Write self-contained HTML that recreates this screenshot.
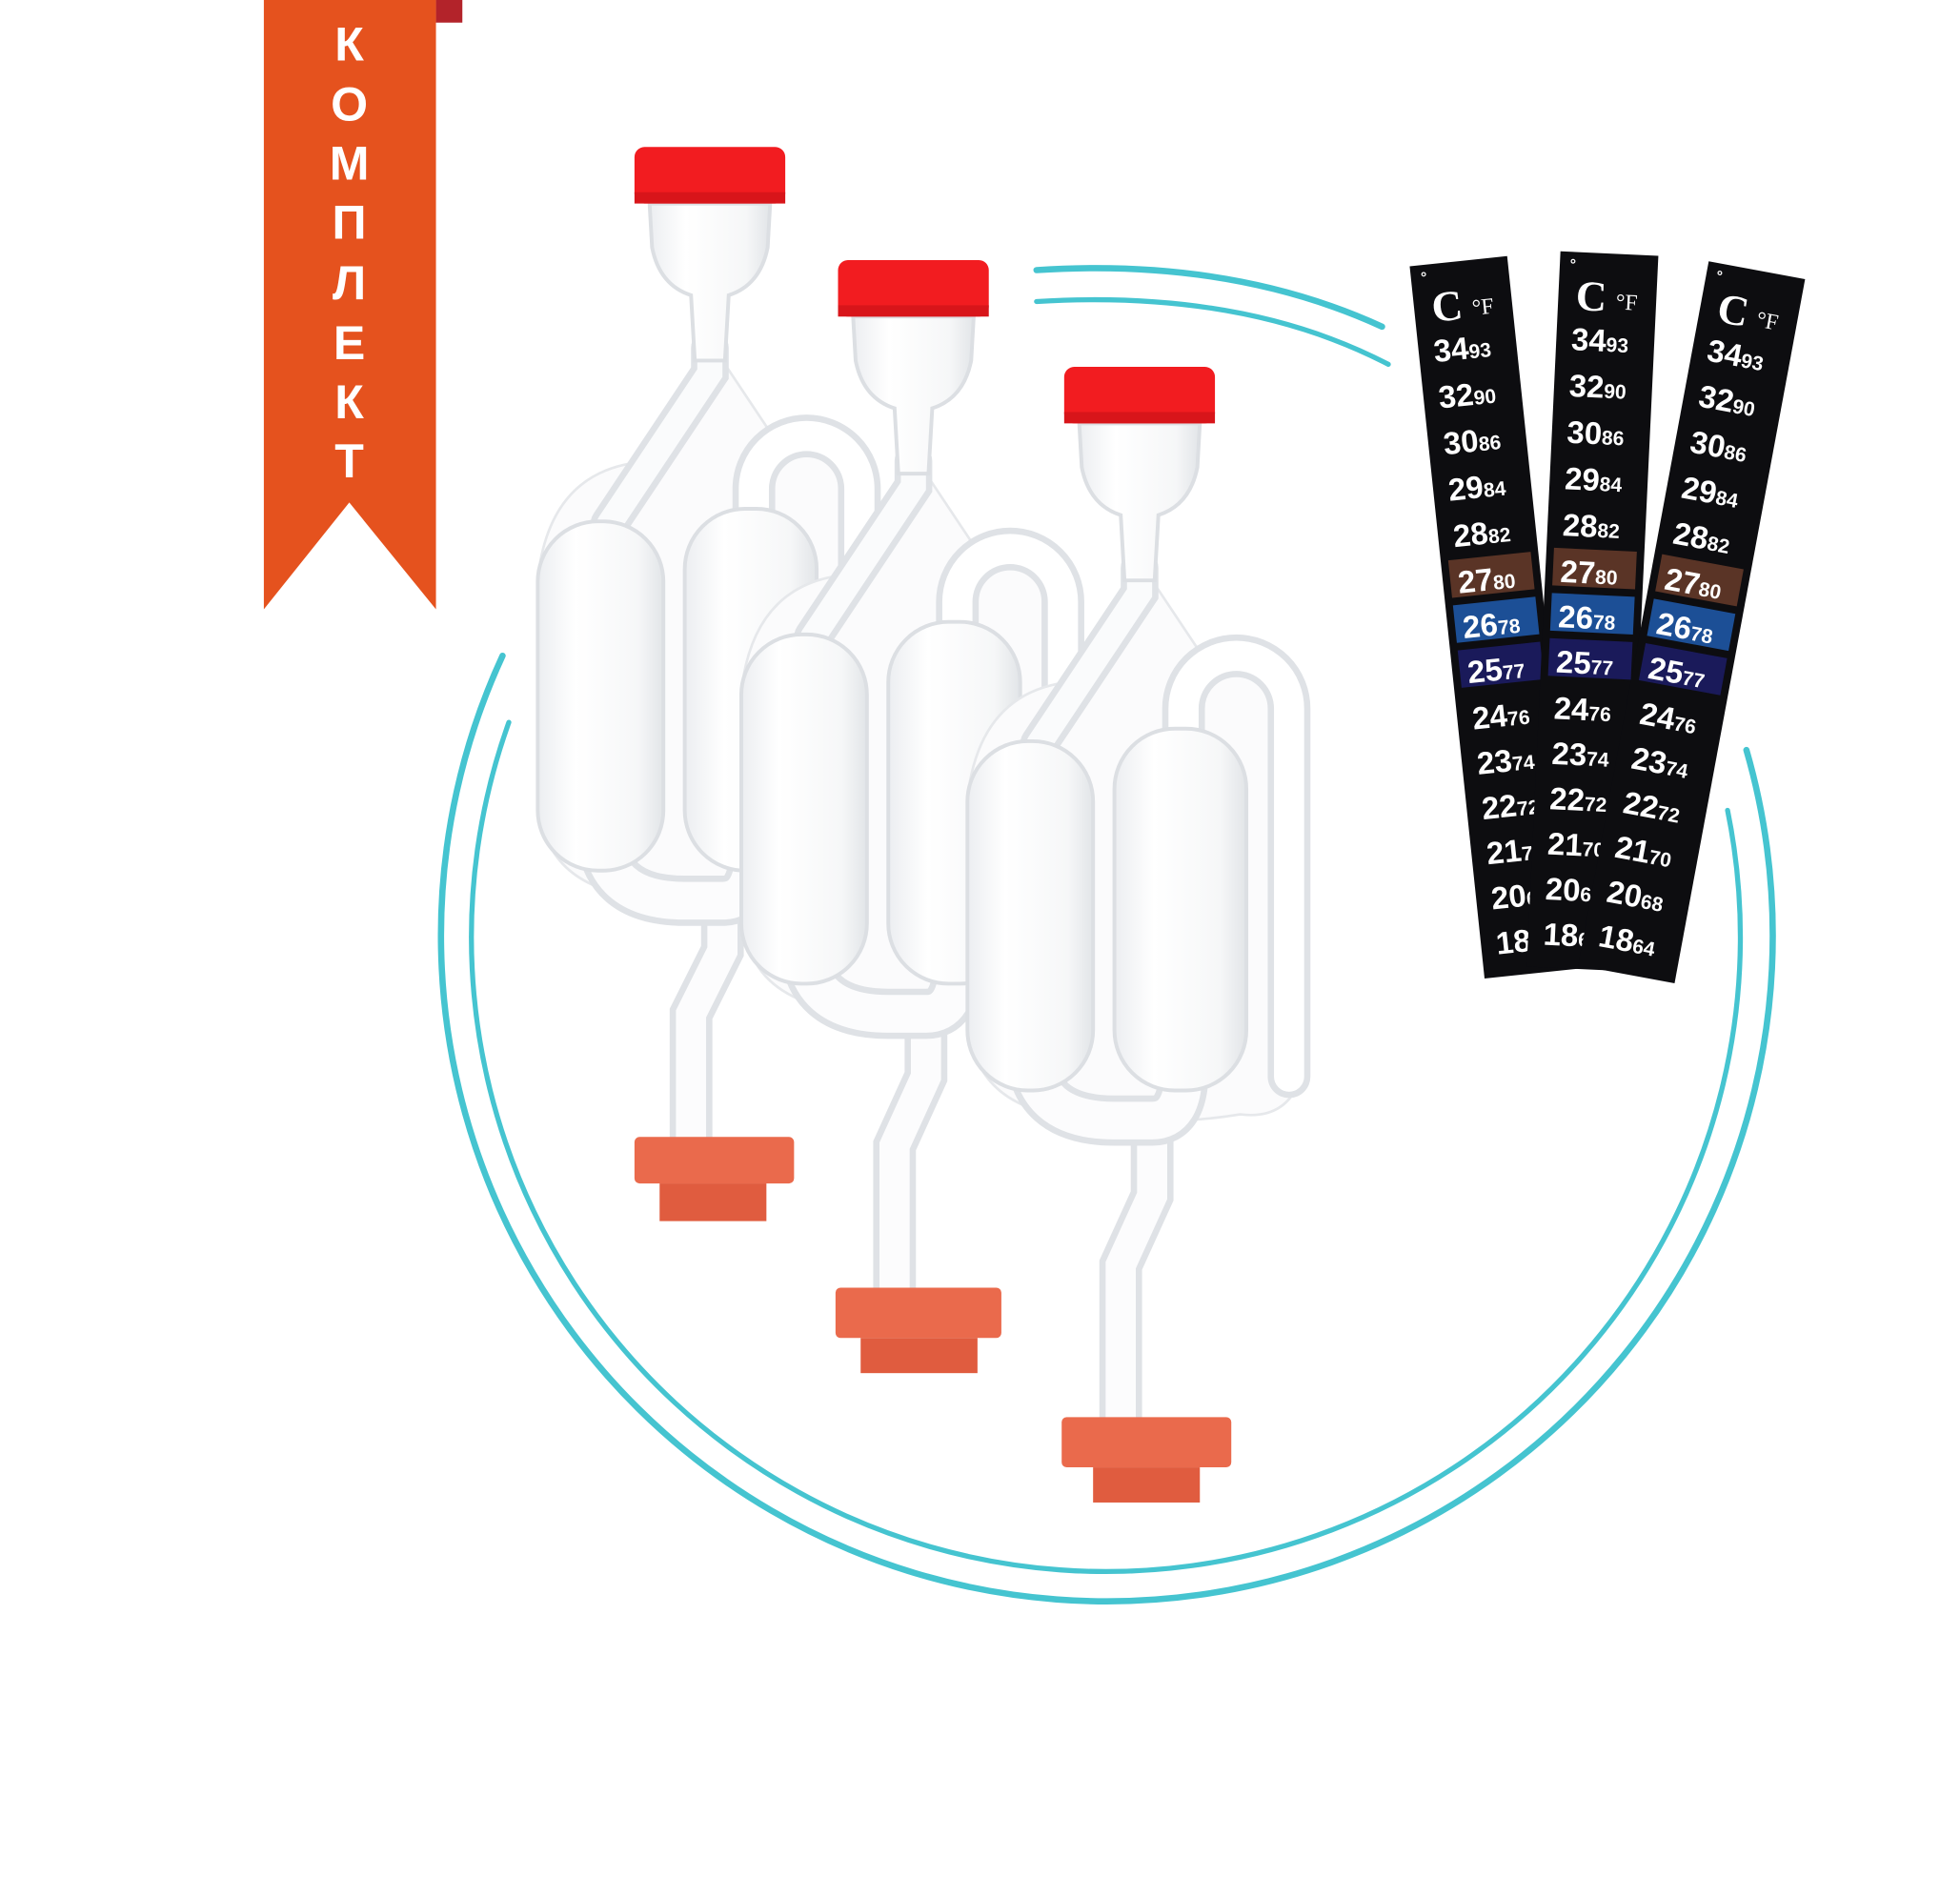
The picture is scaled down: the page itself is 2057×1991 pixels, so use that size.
<!DOCTYPE html>
<html><head><meta charset="utf-8"><style>
html,body{margin:0;padding:0;background:#fff;width:2057px;height:1991px;overflow:hidden}
svg{display:block}
text{font-family:"Liberation Sans",sans-serif;font-weight:bold;fill:#fff}
</style></head><body>
<svg width="2057" height="1991" viewBox="0 0 1560 1510" preserveAspectRatio="none" xmlns="http://www.w3.org/2000/svg">
<defs>
<linearGradient id="gl" x1="0" x2="1"><stop offset="0" stop-color="#eceef1"/><stop offset=".3" stop-color="#fff"/><stop offset=".8" stop-color="#f6f7f8"/><stop offset="1" stop-color="#e2e5e8"/></linearGradient>
<g id="strip">
<rect x="0" y="0" width="78" height="570" fill="#0d0d10"/>
<rect x="6" y="236" width="66" height="30" fill="#5a3426"/>
<rect x="6" y="272" width="66" height="30" fill="#1c4f96"/>
<rect x="6" y="308" width="66" height="30" fill="#1a1a5a"/>
<text x="8" y="14" font-size="12">°</text>
<text x="14" y="46" font-size="34" style="font-family:'Liberation Serif',serif">C</text>
<text x="46" y="44" font-size="18" style="font-family:'Liberation Serif',serif;font-weight:normal">°F</text>
<g font-size="25">
<text x="12" y="78">34<tspan font-size="16">93</tspan></text>
<text x="12" y="115">32<tspan font-size="16">90</tspan></text>
<text x="12" y="152">30<tspan font-size="16">86</tspan></text>
<text x="12" y="189">29<tspan font-size="16">84</tspan></text>
<text x="12" y="226">28<tspan font-size="16">82</tspan></text>
<text x="12" y="263">27<tspan font-size="16">80</tspan></text>
<text x="12" y="299">26<tspan font-size="16">78</tspan></text>
<text x="12" y="335">25<tspan font-size="16">77</tspan></text>
<text x="12" y="372">24<tspan font-size="16">76</tspan></text>
<text x="12" y="408">23<tspan font-size="16">74</tspan></text>
<text x="12" y="444">22<tspan font-size="16">72</tspan></text>
<text x="12" y="480">21<tspan font-size="16">70</tspan></text>
<text x="12" y="516">20<tspan font-size="16">68</tspan></text>
<text x="12" y="552">18<tspan font-size="16">64</tspan></text>
</g>
</g>
<g id="body">
<!-- envelope -->
<path d="M-75 330 Q-60 250 20 250 L70 170 L110 230 Q180 225 190 300 L190 560 Q180 600 140 595 Q110 600 80 600 L40 600 Q-75 600 -75 520 Z" fill="#fbfbfc" stroke="#e6e8eb" stroke-width="2"/>
<!-- loop -->
<path d="M95 300 L95 272 A42 42 0 0 1 179 272 L179 565" fill="none" stroke="#dfe2e6" stroke-width="34" stroke-linecap="round"/>
<path d="M95 300 L95 272 A42 42 0 0 1 179 272 L179 565" fill="none" stroke="#fff" stroke-width="24" stroke-linecap="round"/>
<!-- bottom U -->
<path d="M-27 540 Q-27 600 40 600 L70 600 Q95 600 95 560" fill="none" stroke="#dfe2e6" stroke-width="40"/>
<path d="M-27 540 Q-27 600 40 600 L70 600 Q95 600 95 560" fill="none" stroke="#fcfcfd" stroke-width="30"/>
<!-- diagonal -->
<path d="M60 160 L60 180 L-20 300" fill="none" stroke="#dfe2e6" stroke-width="30" stroke-linecap="round"/>
<path d="M60 160 L60 180 L-20 300" fill="none" stroke="#fafbfc" stroke-width="20" stroke-linecap="round"/>
<rect x="-77" y="298" width="100" height="278" rx="48" fill="url(#gl)" stroke="#dcdfe3" stroke-width="3"/>
<rect x="40" y="288" width="105" height="288" rx="48" fill="url(#gl)" stroke="#dcdfe3" stroke-width="3"/>
<!-- bulb -->
<path d="M12 45 L108 45 L106 80 Q100 110 75 118 L72 170 L48 170 L45 118 Q20 110 14 80 Z" fill="url(#gl)" stroke="#dcdfe3" stroke-width="3"/>
<rect x="0" y="0" width="120" height="45" rx="8" fill="#f21c20"/>
<rect x="0" y="36" width="120" height="9" fill="#d8151a"/>
</g>
</defs>

<!-- ribbon -->
<rect x="347" y="0" width="21" height="18" fill="#b3232a"/>
<path d="M210 0 L347 0 L347 485 L278 400 L210 485 Z" fill="#e5521e"/>
<g font-size="38" text-anchor="middle">
<text x="278" y="48">К</text><text x="278" y="96">О</text><text x="278" y="143">М</text><text x="278" y="190">П</text><text x="278" y="238">Л</text><text x="278" y="286">Е</text><text x="278" y="333">К</text><text x="278" y="380">Т</text>
</g>

<!-- arcs -->
<g fill="none" stroke="#45c4d0" stroke-linecap="round">
<path d="M400 522 A530 530 0 1 0 1390 597" stroke-width="5"/>
<path d="M405 575 A505 505 0 1 0 1375 645" stroke-width="4"/>
<path d="M825 215 Q980 205 1100 260" stroke-width="5"/>
<path d="M825 240 Q990 230 1105 290" stroke-width="4"/>
</g>

<!-- airlocks -->
<g transform="translate(505,117)">
<path d="M70 595 L70 640 L45 690 L45 795" fill="none" stroke="#dfe2e6" stroke-width="34" stroke-linecap="round"/>
<path d="M70 595 L70 640 L45 690 L45 795" fill="none" stroke="#fcfcfd" stroke-width="24" stroke-linecap="round"/>
<use href="#body"/>
<rect x="0" y="788" width="127" height="37" rx="4" fill="#ea6a4c"/><rect x="20" y="825" width="85" height="30" fill="#e05c3f"/></g>
<g transform="translate(667,207)">
<path d="M70 595 L70 650 L45 705 L45 825" fill="none" stroke="#dfe2e6" stroke-width="34" stroke-linecap="round"/>
<path d="M70 595 L70 650 L45 705 L45 825" fill="none" stroke="#fcfcfd" stroke-width="24" stroke-linecap="round"/>
<use href="#body"/>
<rect x="-2" y="818" width="132" height="40" rx="4" fill="#ea6a4c"/><rect x="18" y="858" width="93" height="28" fill="#e05c3f"/></g>
<g transform="translate(847,292)">
<path d="M70 595 L70 660 L45 715 L45 845" fill="none" stroke="#dfe2e6" stroke-width="34" stroke-linecap="round"/>
<path d="M70 595 L70 660 L45 715 L45 845" fill="none" stroke="#fcfcfd" stroke-width="24" stroke-linecap="round"/>
<use href="#body"/>
<rect x="-2" y="836" width="135" height="40" rx="4" fill="#ea6a4c"/><rect x="23" y="876" width="85" height="28" fill="#e05c3f"/></g>

<!-- strips -->
<use href="#strip" transform="translate(1122,212) rotate(-6)"/>
<use href="#strip" transform="translate(1242,200) rotate(2.7)"/>
<use href="#strip" transform="translate(1360,208) rotate(10.5)"/>
</svg>
</body></html>
